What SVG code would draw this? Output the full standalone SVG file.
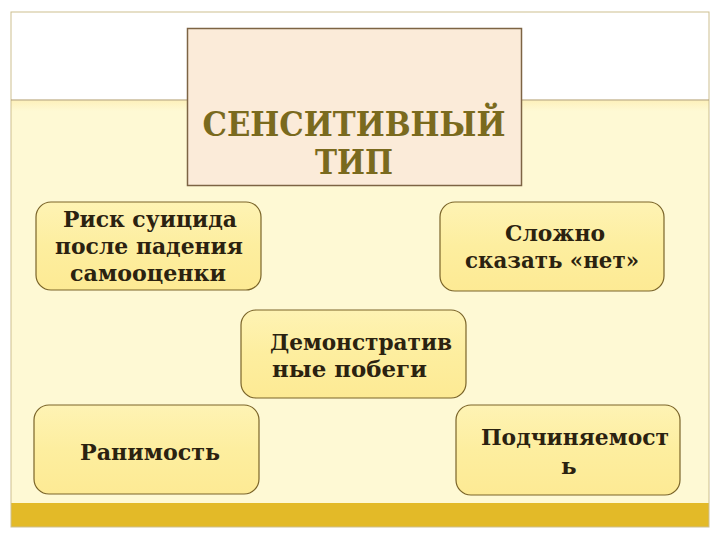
<svg xmlns="http://www.w3.org/2000/svg" width="720" height="540" viewBox="0 0 720 540">
<defs>
<linearGradient id="nodeFill" x1="0" y1="0" x2="0" y2="1">
<stop offset="0" stop-color="#fef3b4"/>
<stop offset="0.5" stop-color="#fdee9f"/>
<stop offset="1" stop-color="#fdea94"/>
</linearGradient>
<linearGradient id="bandTop" x1="0" y1="0" x2="0" y2="1">
<stop offset="0" stop-color="#fdf1bc"/>
<stop offset="1" stop-color="#fef9d4"/>
</linearGradient>
<style>
.node rect{fill:url(#nodeFill);stroke:#7a6428;stroke-width:1.2}
.node text{font-family:"DejaVu Serif","Liberation Serif",serif;font-weight:bold;font-size:23px;fill:#2b2210}
.title text{font-family:"DejaVu Serif","Liberation Serif",serif;font-weight:bold;font-size:34px;fill:#7a6a1e;text-anchor:middle}
</style>
</defs>
<rect x="0" y="0" width="720" height="540" fill="#ffffff"/>
<rect x="11" y="100" width="698" height="404" fill="#fef9d4"/>
<rect x="11" y="101" width="698" height="10" fill="url(#bandTop)"/>
<rect x="11" y="503" width="698" height="24" fill="#e3ba28"/>
<rect x="11" y="12" width="698" height="515" fill="none" stroke="#cdbf90" stroke-width="1"/>
<line x1="11" y1="100" x2="709" y2="100" stroke="#b09a68" stroke-width="1.2"/>

<g id="title" class="title">
<rect x="187.5" y="28.5" width="334" height="157" fill="#fbebd9" stroke="#7d6444" stroke-width="1.5"/>
<text x="354" y="136" textLength="303" lengthAdjust="spacingAndGlyphs">СЕНСИТИВНЫЙ</text>
<text x="354" y="174" textLength="78" lengthAdjust="spacingAndGlyphs">ТИП</text>
</g>

<g id="connectors"></g>

<g id="n-risk" class="node">
<rect x="36" y="202" width="225" height="88" rx="15"/>
<text x="63" y="227" textLength="174" lengthAdjust="spacingAndGlyphs">Риск суицида</text>
<text x="55" y="254" textLength="188" lengthAdjust="spacingAndGlyphs">после падения</text>
<text x="70" y="281" textLength="156" lengthAdjust="spacingAndGlyphs">самооценки</text>
</g>
<g id="n-slozhno" class="node">
<rect x="440" y="202" width="224" height="89" rx="15"/>
<text x="505" y="241" textLength="100" lengthAdjust="spacingAndGlyphs">Сложно</text>
<text x="465" y="268" textLength="174" lengthAdjust="spacingAndGlyphs">сказать «нет»</text>
</g>
<g id="n-demo" class="node">
<rect x="241" y="310" width="225" height="88" rx="15"/>
<text x="270" y="350" textLength="182" lengthAdjust="spacingAndGlyphs">Демонстратив</text>
<text x="272" y="377" textLength="155" lengthAdjust="spacingAndGlyphs">ные побеги</text>
</g>
<g id="n-ranim" class="node">
<rect x="34" y="405" width="225" height="89" rx="15"/>
<text x="80" y="460" textLength="140" lengthAdjust="spacingAndGlyphs">Ранимость</text>
</g>
<g id="n-podch" class="node">
<rect x="456" y="405" width="224" height="90" rx="15"/>
<text x="481" y="445" textLength="188" lengthAdjust="spacingAndGlyphs">Подчиняемост</text>
<text x="561" y="474">ь</text>
</g>
</svg>
